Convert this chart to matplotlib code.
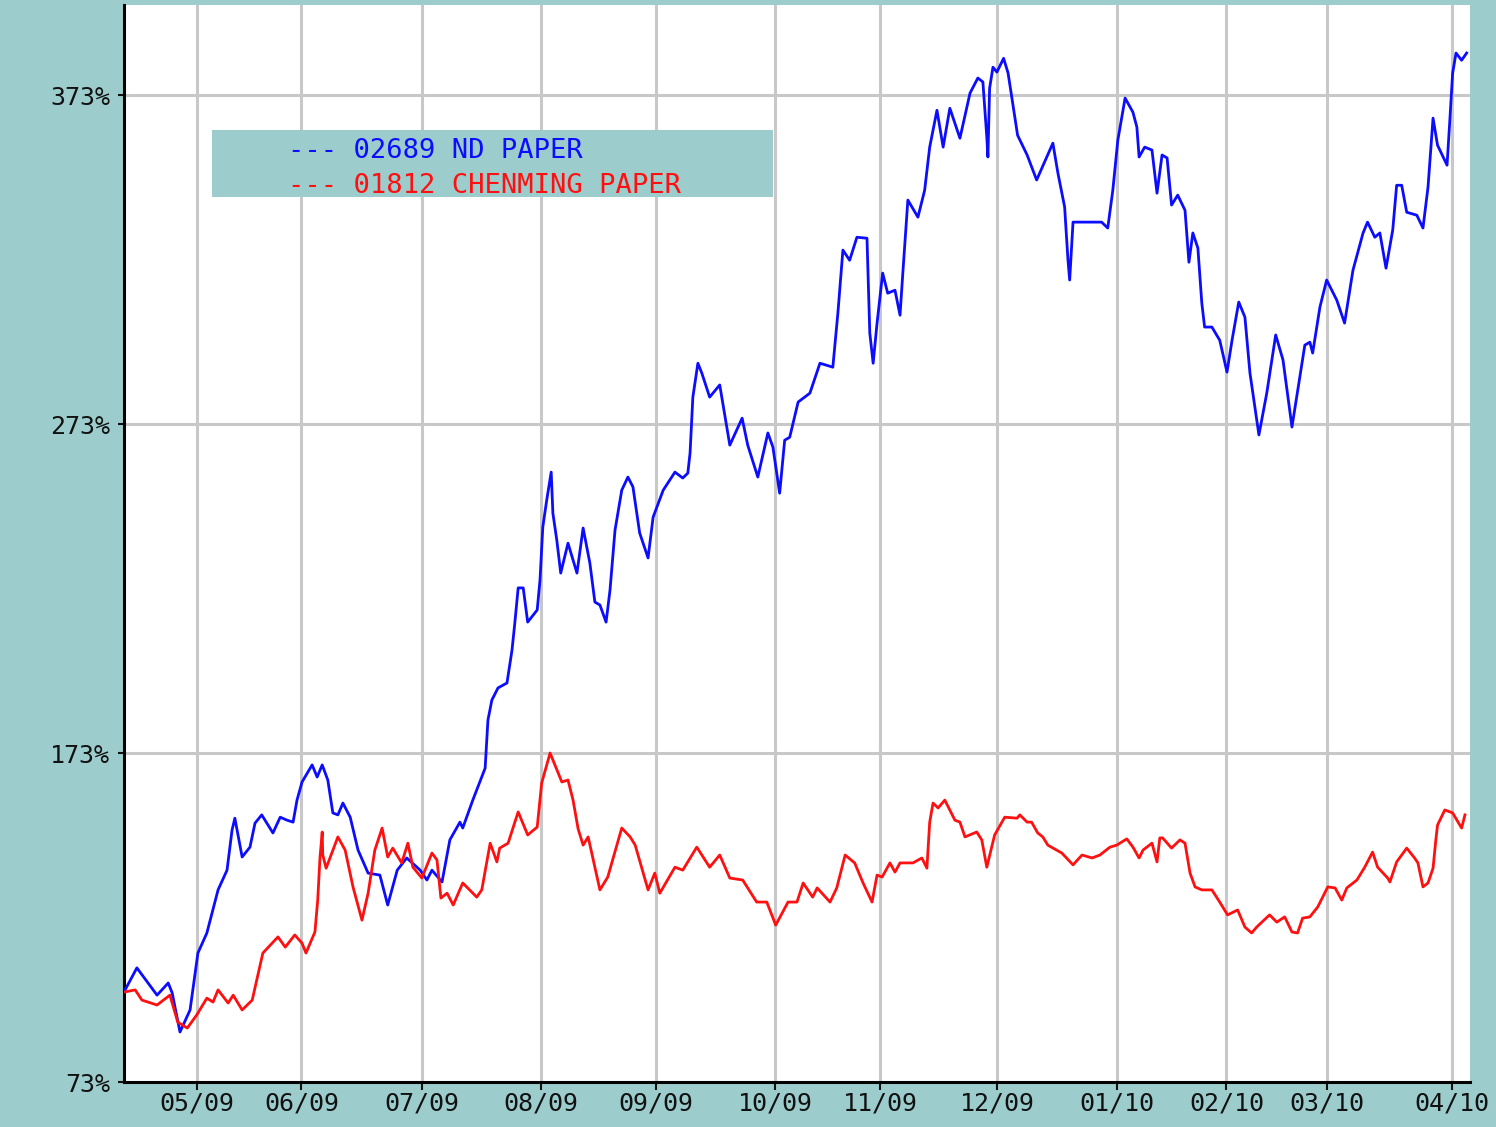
import matplotlib.pyplot as plt
from matplotlib.patches import Rectangle

# chart values (x = trading day since start, y = % of start)
nd_days = [0.2, 2.3, 5.9, 7.9, 8.6, 10.0, 11.8, 12.7, 13.2, 14.8,
           16.8, 18.4, 19.3, 19.8, 21.1, 22.5, 23.4, 24.6, 26.6, 27.9,
           29.1, 30.2, 30.9, 31.8, 33.6, 34.5, 35.4, 36.4, 37.3, 38.2,
           39.1, 40.4, 41.8, 43.6, 45.7, 47.1, 48.8, 50.5, 52.9, 54.1,
           55.0, 56.8, 58.2, 60.0, 60.5, 62.3, 64.5, 65.0, 65.7, 66.8,
           68.4, 69.3, 69.8, 70.4, 71.3, 72.1, 73.8, 74.3, 74.8, 75.5,
           76.3, 76.6, 77.3, 78.0, 79.3, 80.9, 82.0, 83.2, 84.1, 85.0,
           86.1, 86.8, 87.7, 88.9, 90.0, 90.9, 92.1, 93.6, 94.5, 96.3,
           98.4, 99.8, 100.7, 101.1, 101.6, 102.5, 103.2, 104.6, 106.4, 108.2,
           110.4, 111.4, 113.2, 115.0, 115.9, 117.1, 118.0, 118.9, 120.4, 122.5,
           124.3, 126.6, 127.5, 128.4, 129.6, 130.9, 132.7, 133.2, 133.8, 134.5,
           135.5, 136.4, 137.7, 138.6, 139.1, 140.0, 141.8, 143.0, 143.9, 145.2,
           146.3, 147.5, 149.3, 151.1, 152.5, 153.4, 154.1, 154.3, 154.6, 155.2,
           155.9, 157.1, 157.9, 159.6, 161.3, 163.0, 165.9, 166.8, 168.0, 168.6,
           168.9, 169.5, 170.7, 174.6, 175.7, 176.6, 177.5, 178.8, 180.2, 180.9,
           181.3, 182.3, 183.6, 184.5, 185.4, 186.3, 187.1, 188.2, 189.5, 190.2,
           190.9, 191.8, 192.5, 193.0, 194.3, 195.7, 197.0, 197.9, 199.1, 200.2,
           201.1, 202.7, 204.1, 205.7, 207.0, 208.6, 210.0, 210.9, 211.8, 212.3,
           213.6, 214.8, 216.6, 218.0, 219.5, 221.3, 222.1, 223.4, 224.3, 225.4,
           226.6, 227.3, 228.2, 229.1, 230.9, 232.0, 232.9, 233.6, 233.8, 234.6,
           236.3, 236.8, 237.3, 237.9, 238.9, 239.8]
nd_values = [101.0, 107.7, 99.4, 103.1, 100.1, 88.2, 94.9, 106.1, 112.2, 118.3,
             131.4, 137.4, 149.6, 153.2, 141.4, 144.4, 151.7, 154.2, 148.7, 153.5,
             152.6, 152.0, 158.7, 164.2, 169.4, 165.7, 169.4, 164.8, 154.8, 154.2,
             157.8, 153.5, 143.5, 136.5, 135.9, 126.8, 137.4, 141.1, 137.4, 134.4,
             137.4, 133.8, 146.6, 152.0, 150.2, 158.7, 168.4, 183.0, 189.1, 192.8,
             194.3, 204.3, 212.5, 223.2, 223.2, 212.8, 216.5, 225.6, 241.7, 249.9,
             258.4, 245.9, 237.7, 227.7, 236.8, 227.7, 241.4, 230.8, 218.9, 218.0,
             212.8, 222.5, 240.8, 252.9, 256.9, 253.9, 239.9, 232.3, 244.7, 252.9,
             258.4, 256.6, 258.1, 264.2, 281.2, 291.5, 288.5, 281.2, 284.9, 266.6,
             274.8, 266.6, 256.9, 270.3, 266.0, 252.0, 268.1, 269.0, 279.7, 282.4,
             291.5, 290.3, 306.7, 325.9, 322.8, 329.8, 329.5, 300.7, 291.5, 303.7,
             318.9, 312.8, 313.7, 306.1, 318.9, 341.1, 335.9, 344.1, 357.2, 368.4,
             357.2, 369.0, 359.9, 373.6, 378.2, 377.0, 360.2, 354.2, 375.1, 381.5,
             380.0, 384.2, 379.7, 360.8, 354.8, 347.2, 358.4, 349.3, 339.0, 322.8,
             316.8, 334.4, 334.4, 334.4, 332.6, 344.0, 359.3, 372.1, 367.8, 363.3,
             354.2, 357.2, 356.3, 343.2, 354.8, 353.9, 339.6, 342.6, 338.0, 322.2,
             331.1, 326.5, 309.8, 302.5, 302.5, 298.5, 288.8, 298.5, 310.1, 305.5,
             288.5, 269.7, 282.4, 300.1, 292.5, 272.1, 287.3, 297.0, 297.9, 294.6,
             308.6, 316.8, 310.7, 303.7, 319.8, 331.1, 334.4, 329.8, 331.1, 320.4,
             332.0, 345.6, 345.6, 337.4, 336.5, 332.6, 345.0, 361.4, 366.0, 357.8,
             351.7, 365.4, 379.7, 385.8, 383.6, 385.8]

cm_days = [0.2, 2.0, 3.2, 5.9, 8.2, 9.6, 11.3, 13.0, 14.8, 15.9,
           16.8, 18.6, 19.5, 21.1, 22.9, 24.8, 27.5, 28.8, 30.5, 31.8,
           32.5, 34.1, 34.6, 35.0, 35.4, 35.5, 36.1, 38.2, 39.5, 40.9,
           42.5, 43.6, 44.8, 46.1, 47.1, 48.0, 49.6, 50.7, 51.6, 53.2,
           55.0, 55.9, 56.6, 57.7, 58.8, 60.5, 63.0, 63.9, 65.4, 66.6,
           67.1, 68.6, 70.4, 72.1, 73.8, 74.6, 76.1, 78.2, 79.3, 80.2,
           81.1, 82.0, 82.9, 85.0, 86.4, 88.9, 90.4, 91.3, 93.6, 94.8,
           95.7, 98.4, 99.8, 102.3, 104.6, 106.4, 108.2, 110.5, 113.0, 114.8,
           116.4, 118.6, 120.2, 121.3, 123.0, 123.8, 126.1, 127.3, 128.8, 130.5,
           132.0, 133.6, 134.5, 135.4, 136.8, 137.7, 138.6, 140.9, 142.5, 143.4,
           143.9, 144.5, 145.4, 146.6, 148.4, 149.3, 150.2, 152.3, 153.2, 154.1,
           155.5, 157.3, 159.5, 160.0, 161.3, 162.1, 163.2, 164.1, 165.0, 167.5,
           169.5, 171.1, 172.9, 174.3, 176.1, 177.3, 179.1, 180.2, 181.3, 182.0,
           183.6, 184.5, 185.0, 185.5, 187.1, 188.6, 189.5, 190.4, 191.3, 192.5,
           194.3, 195.7, 197.1, 198.9, 200.2, 201.4, 202.3, 204.6, 205.9, 207.3,
           208.6, 209.6, 210.5, 211.8, 213.2, 215.0, 216.3, 217.5, 218.4, 220.2,
           221.6, 223.0, 223.9, 225.7, 226.1, 227.3, 229.1, 230.5, 231.1, 232.0,
           232.9, 233.8, 234.3, 234.6, 235.9, 237.3, 238.9, 239.5]
cm_values = [100.4, 101.0, 97.9, 96.4, 99.4, 91.2, 89.4, 93.4, 98.5, 97.3,
             101.0, 97.0, 99.4, 94.9, 97.9, 112.2, 117.1, 114.0, 117.7, 115.2,
             112.2, 118.6, 128.3, 141.1, 149.0, 142.0, 138.0, 147.5, 143.5, 132.3,
             122.2, 130.4, 143.5, 150.2, 141.4, 144.1, 139.6, 145.6, 138.3, 135.0,
             142.6, 140.5, 128.9, 130.4, 126.8, 133.5, 129.2, 131.4, 145.6, 139.9,
             144.1, 145.6, 155.1, 148.1, 150.5, 163.9, 173.0, 164.2, 164.8, 158.7,
             150.0, 145.0, 147.5, 131.4, 135.3, 150.2, 147.5, 145.0, 131.4, 136.5,
             130.4, 138.3, 137.4, 144.4, 138.3, 142.0, 135.0, 134.4, 127.7, 127.7,
             120.7, 127.7, 127.7, 133.5, 129.2, 132.0, 127.7, 132.0, 142.0, 139.6,
             133.5, 127.7, 135.9, 135.3, 139.6, 136.8, 139.6, 139.6, 141.1, 138.0,
             152.0, 157.8, 156.3, 158.7, 152.6, 152.0, 147.5, 149.0, 146.6, 138.3,
             148.1, 153.5, 153.2, 154.2, 152.0, 152.0, 148.7, 147.5, 145.0, 142.6,
             139.0, 142.0, 141.1, 142.0, 144.4, 145.0, 146.9, 144.4, 141.1, 143.5,
             145.6, 139.9, 147.2, 147.2, 144.1, 146.6, 145.6, 136.5, 132.3, 131.4,
             131.4, 127.7, 123.8, 125.3, 120.1, 118.3, 120.1, 123.8, 121.6, 123.2,
             118.6, 118.3, 122.8, 123.2, 126.2, 132.3, 132.0, 128.3, 132.0, 134.4,
             138.3, 142.9, 138.3, 135.0, 133.8, 139.9, 144.1, 141.1, 139.6, 132.3,
             133.5, 138.0, 146.6, 151.1, 155.7, 154.8, 150.2, 154.2]

month_pos = [13.0, 31.7, 53.2, 74.5, 95.0, 116.3, 135.1, 156.0, 177.3, 196.9, 214.8, 237.1]
month_labels = ["05/09", "06/09", "07/09", "08/09", "09/09", "10/09",
                "11/09", "12/09", "01/10", "02/10", "03/10", "04/10"]
pct_ticks = [73, 173, 273, 373]
series_names = ["--- 02689 ND PAPER", "--- 01812 CHENMING PAPER"]

TEAL = "#9ccccc"
BLUE = "#0c0cff"
RED = "#ff1010"
MONO = "DejaVu Sans Mono"

# figure sized in pixels, axes placed where the white plot area sits
W, H = 1496, 1127
fig = plt.figure(figsize=(W / 100, H / 100), dpi=100, facecolor=TEAL)
ax = fig.add_axes([124 / W, 1 - 1082 / H, (1470 - 124) / W, (1082 - 5) / H])
ax.set_facecolor("white")

ax.plot(nd_days, nd_values, color=BLUE, lw=2.0, zorder=3)
ax.plot(cm_days, cm_values, color=RED, lw=2.0, zorder=3)

ax.set_xlim(0, 240.4)
ax.set_ylim(73, 400.4)
ax.set_xticks(month_pos)
ax.set_xticklabels(month_labels, family=MONO, fontsize=18)
ax.set_yticks(pct_ticks)
ax.set_yticklabels([str(v) + "%" for v in pct_ticks], family=MONO, fontsize=18)
ax.grid(color="#c8c8c8", lw=2.2)
ax.set_axisbelow(True)

for s in ["top", "right"]:
    ax.spines[s].set_visible(False)
for s in ["left", "bottom"]:
    ax.spines[s].set_color("black")
    ax.spines[s].set_linewidth(2.2)

ax.tick_params(axis="x", direction="out", length=6, width=1.5, pad=1, colors="#111111")
ax.tick_params(axis="y", direction="out", length=4, width=1.5, pad=6, colors="#111111")

# legend box in the upper left
ax.add_patch(Rectangle((212 / W, 1 - 197 / H), (773 - 212) / W, (197 - 130) / H,
                       transform=fig.transFigure, facecolor=TEAL, edgecolor="none",
                       zorder=4, clip_on=False))
ax.text(288 / W, 1 - 158 / H, series_names[0], color=BLUE, family=MONO, fontsize=19.5,
        va="baseline", transform=fig.transFigure, zorder=5)
ax.text(288 / W, 1 - 193 / H, series_names[1], color=RED, family=MONO, fontsize=19.5,
        va="baseline", transform=fig.transFigure, zorder=5)

plt.savefig("out.png", dpi=100, facecolor=TEAL)
